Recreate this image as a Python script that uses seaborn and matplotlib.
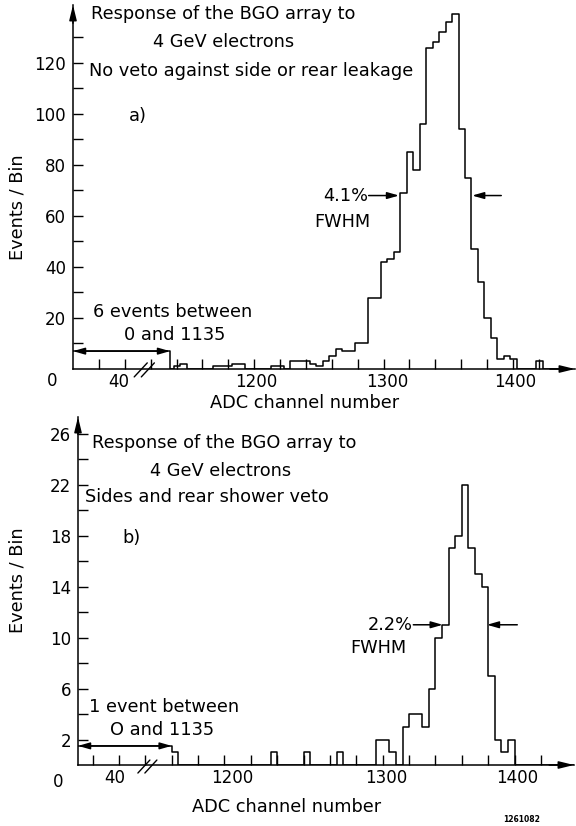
import numpy as np
import pandas as pd
import matplotlib
matplotlib.use("Agg")
import matplotlib.pyplot as plt
import seaborn as sns

# ---------------- data ----------------
bin_width = 5

# panel a) : no veto
a_overflow_range = (1060, 1135)   # "6 events between 0 and 1135" box
a_overflow_height = 7
a_first_edge = 1138
a_counts = [1, 2, 0, 0, 0, 0, 1, 1, 1, 2,
            2, 0, 0, 0, 0, 1, 1, 0, 3, 3,
            3, 2, 1, 3, 5, 8, 7, 7, 10, 10,
            28, 28, 42, 43, 46, 69, 85, 78, 96, 126,
            128, 132, 136, 139, 94, 75, 47, 34, 20, 12,
            4, 5, 4, 0, 0, 0, 3, 0, 0, 0,
            0]
a_xlim = (1060, 1448)
a_ylim = (0, 142.7)
a_yticks = [20, 40, 60, 80, 100, 120]
a_yminor = [10, 30, 50, 70, 90, 110, 130]
a_xtick_pos = [1095, 1202, 1303, 1402]
a_xtick_labels = ["40", "1200", "1300", "1400"]

# panel b) : sides and rear shower veto
b_overflow_range = (1069, 1140)   # "1 event between 0 and 1135" box
b_overflow_height = 1.5
b_first_edge = 1140
b_counts = [1, 0, 0, 0, 0, 0, 0, 0, 0, 0,
            0, 0, 0, 0, 0, 1, 0, 0, 0, 0,
            1, 0, 0, 0, 0, 1, 0, 0, 0, 0,
            0, 2, 2, 1, 0, 3, 4, 4, 3, 6,
            10, 11, 17, 18, 22, 17, 15, 14, 7, 2,
            1, 2, 0, 0, 0, 0, 0, 0, 0, 0,
            0]
b_xlim = (1069, 1445)
b_ylim = (0, 27.3)
b_yticks = [2, 6, 10, 14, 18, 22, 26]
b_yminor = [4, 8, 12, 16, 20, 24]
b_xtick_pos = [1097, 1186, 1303, 1402]
b_xtick_labels = ["40", "1200", "1300", "1400"]

x_minor = list(range(1080, 1440, 20))

# ---------------- style ----------------
sns.set_style("white")
plt.rcParams.update({
    "font.family": ["DejaVu Sans"],
    "text.color": "black",
    "axes.labelcolor": "black",
    "xtick.color": "black",
    "ytick.color": "black",
    "xtick.bottom": True,
    "ytick.left": True,
    "xtick.direction": "in",
    "ytick.direction": "in",
    "xtick.minor.size": 7,
    "xtick.minor.width": 1,
    "ytick.minor.size": 7,
    "ytick.minor.width": 1,
    "ytick.major.size": 7,
    "ytick.major.width": 1,
})
FS = 12        # tick labels
FT = 12.8      # annotation text
LW = 1.1

fig = plt.figure(figsize=(5.76, 8.26), dpi=100)
W, H = 576.0, 826.0
axA = fig.add_axes([73 / W, 1 - 369 / H, 502 / W, 364 / H])
axB = fig.add_axes([78 / W, 1 - 765 / H, 496 / W, 348 / H])


def draw_panel(ax, ovr, ovh, first, counts, xlim, ylim, yt, ym, xtp, xtl):
    edges = [ovr[0], ovr[1]]
    weights = [ovh]
    if first > ovr[1]:
        edges.append(first)
        weights.append(0)
    edges = [float(e) for e in edges] + [float(first + bin_width * k) for k in range(1, len(counts) + 1)]
    weights = list(weights) + list(counts)
    centers = [0.5 * (edges[i] + edges[i + 1]) for i in range(len(edges) - 1)]
    df = pd.DataFrame({"channel": centers, "events": np.array(weights, dtype=float)})
    sns.histplot(data=df, x="channel", weights="events", bins=edges, element="step",
                 fill=False, color="black", linewidth=LW, ax=ax)
    ax.set_xlim(*xlim)
    ax.set_ylim(*ylim)
    ax.set_xlabel("")
    ax.set_ylabel("")
    for s in ("top", "right"):
        ax.spines[s].set_visible(False)
    for s in ("left", "bottom"):
        ax.spines[s].set_linewidth(LW)
        ax.spines[s].set_color("black")
    ax.set_yticks(yt)
    ax.set_yticks(ym, minor=True)
    ax.tick_params(axis="y", which="both", left=True, direction="in", length=7, width=1,
                   labelsize=FS, pad=5, colors="black")
    ax.set_xticks(xtp)
    ax.set_xticklabels(xtl)
    ax.set_xticks(x_minor, minor=True)
    ax.tick_params(axis="x", which="major", bottom=True, length=0, labelsize=FS, pad=3,
                   colors="black")
    ax.tick_params(axis="x", which="minor", bottom=True, direction="in", length=7, width=1,
                   colors="black")
    # axis arrows
    ax.annotate("", xy=(1.0, 0), xycoords="axes fraction", xytext=(0.95, 0),
                arrowprops=dict(arrowstyle="-|>,head_length=0.9,head_width=0.22",
                                color="black", lw=LW, shrinkA=0, shrinkB=0))
    ax.annotate("", xy=(0, 1.0), xycoords="axes fraction", xytext=(0, 0.95),
                arrowprops=dict(arrowstyle="-|>,head_length=0.9,head_width=0.22",
                                color="black", lw=LW, shrinkA=0, shrinkB=0))


draw_panel(axA, a_overflow_range, a_overflow_height, a_first_edge, a_counts,
           a_xlim, a_ylim, a_yticks, a_yminor, a_xtick_pos, a_xtick_labels)
draw_panel(axB, b_overflow_range, b_overflow_height, b_first_edge, b_counts,
           b_xlim, b_ylim, b_yticks, b_yminor, b_xtick_pos, b_xtick_labels)

arrow_r = dict(arrowstyle="-|>,head_length=0.7,head_width=0.2", color="black",
               lw=LW, shrinkA=0, shrinkB=0)
arrow_d = dict(arrowstyle="<|-|>,head_length=0.7,head_width=0.2", color="black",
               lw=LW, shrinkA=0, shrinkB=0)

# ---------- panel a annotations ----------
axA.text(1074, 139, "Response of the BGO array to", fontsize=FT, va="center", ha="left")
axA.text(1122, 128, "4 GeV electrons", fontsize=FT, va="center", ha="left")
axA.text(1072, 117, "No veto against side or rear leakage", fontsize=FT, va="center", ha="left")
axA.text(1103.5, 99, "a)", fontsize=FT, va="center", ha="left")
axA.text(1288, 68, "4.1%", fontsize=FT, va="center", ha="right")
axA.annotate("", xy=(1312, 68), xytext=(1288.5, 68), arrowprops=arrow_r)
axA.text(1268, 57.6, "FWHM", fontsize=FT, va="center", ha="center")
axA.annotate("", xy=(1368.5, 68), xytext=(1391, 68), arrowprops=arrow_r)
axA.text(1075.7, 22.4, "6 events between", fontsize=FT, va="center", ha="left")
axA.text(1099.6, 13.3, "0 and 1135", fontsize=FT, va="center", ha="left")
axA.annotate("", xy=(1135, a_overflow_height), xytext=(1060, a_overflow_height),
             arrowprops=arrow_d)
for dx in (0, 5.5):
    axA.plot([1107.3 + dx, 1117.4 + dx], [-3.1, 2.4], color="black", lw=1.0, clip_on=False)
axA.text(-0.042, -0.033, "0", transform=axA.transAxes, fontsize=FS, ha="center", va="center")
axA.text(0.462, -0.094, "ADC channel number", transform=axA.transAxes, fontsize=FT,
         ha="center", va="center")
axA.text(-0.11, 0.445, "Events / Bin", transform=axA.transAxes, fontsize=FT,
         ha="center", va="center", rotation=90)

# ---------- panel b annotations ----------
axB.text(1079.5, 25.25, "Response of the BGO array to", fontsize=FT, va="center", ha="left")
axB.text(1123.5, 23.1, "4 GeV electrons", fontsize=FT, va="center", ha="left")
axB.text(1074, 21.0, "Sides and rear shower veto", fontsize=FT, va="center", ha="left")
axB.text(1103, 17.8, "b)", fontsize=FT, va="center", ha="left")
axB.text(1322.7, 11, "2.2%", fontsize=FT, va="center", ha="right")
axB.annotate("", xy=(1345.5, 11), xytext=(1323.2, 11), arrowprops=arrow_r)
axB.text(1297, 9.2, "FWHM", fontsize=FT, va="center", ha="center")
axB.annotate("", xy=(1379, 11), xytext=(1402, 11), arrowprops=arrow_r)
axB.text(1077.7, 4.55, "1 event between", fontsize=FT, va="center", ha="left")
axB.text(1093, 2.75, "O and 1135", fontsize=FT, va="center", ha="left")
axB.annotate("", xy=(1140, b_overflow_height), xytext=(1069, b_overflow_height),
             arrowprops=arrow_d)
for dx in (0, 5.3):
    axB.plot([1114.4 + dx, 1123.5 + dx], [-0.63, 0.39], color="black", lw=1.0, clip_on=False)
axB.text(-0.040, -0.049, "0", transform=axB.transAxes, fontsize=FS, ha="center", va="center")
axB.text(0.421, -0.121, "ADC channel number", transform=axB.transAxes, fontsize=FT,
         ha="center", va="center")
axB.text(-0.121, 0.53, "Events / Bin", transform=axB.transAxes, fontsize=FT,
         ha="center", va="center", rotation=90)

fig.text(522 / W, 1 - 820 / H, "1261082", fontsize=5.5, fontweight="bold",
         ha="center", va="center")

fig.savefig("out.png", dpi=100, facecolor="white")
